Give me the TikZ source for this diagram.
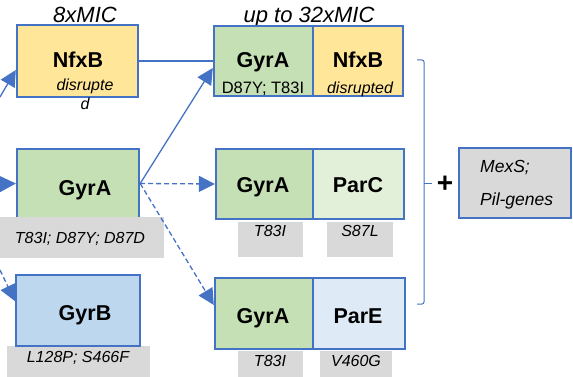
\documentclass[tikz,border=0pt]{standalone}
\usepackage{fontspec}
\setmainfont{Liberation Sans}
\usetikzlibrary{arrows.meta}
\definecolor{bl}{HTML}{4472C4}
\definecolor{yel}{HTML}{FFE699}
\definecolor{grn}{HTML}{C5E0B4}
\definecolor{lgrn}{HTML}{E2F0D9}
\definecolor{blu}{HTML}{BDD7EE}
\definecolor{lblu}{HTML}{DEEBF7}
\definecolor{gry}{HTML}{D9D9D9}
\begin{document}
\begin{tikzpicture}[x=1pt,y=-1pt,
  gbox/.style={draw=bl, line width=2.4pt, inner sep=0pt},
  glab/.style={fill=gry, inner sep=0pt},
  big/.style={font=\fontsize{21.5}{25}\selectfont\bfseries, anchor=base, inner sep=0pt},
  small/.style={font=\fontsize{16}{19}\selectfont\itshape, anchor=base, inner sep=0pt},
  head/.style={font=\fontsize{22}{26}\selectfont\itshape, anchor=base, inner sep=0pt},
  conn/.style={draw=bl, line width=1.3pt},
  arr/.style={conn, -{Triangle[length=16pt,width=16pt]}},
  dline/.style={dash pattern=on 5pt off 3pt}
]
\useasboundingbox (0,0) rectangle (573,377);

% headers
\node[head] (h1) at (85,23) {8xMIC};
\node[head] (h2) at (309,23) {up to 32xMIC};

% left column
\node[gbox, fill=yel, minimum width=121pt, minimum height=72pt] (nfxb1) at (77.5,61) {};
\node[big] (t1) at (78,68) {NfxB};
\node[small, align=center, anchor=north] (t1b) at (85,79) {disrupte\\d};

\node[gbox, fill=grn, minimum width=122pt, minimum height=69pt] (gyra1) at (78,183.5) {};
\node[big] (t2) at (85,195) {GyrA};
\node[glab, minimum width=164pt, minimum height=41pt] (l2) at (82,237.5) {};
\node[small] (t2b) at (80,243) {T83I; D87Y; D87D};

\node[glab, minimum width=143pt, minimum height=32pt] (l3) at (78.5,362) {};
\node[gbox, fill=blu, minimum width=124pt, minimum height=71pt] (gyrb) at (78,310.5) {};
\node[big] (t3) at (85,320) {GyrB};
\node[small] (t3b) at (78,362) {L128P; S466F};

% middle column top
\node[gbox, fill=grn, minimum width=99pt, minimum height=70pt] (tga) at (263.5,61) {};
\node[gbox, fill=yel, minimum width=90pt, minimum height=70pt] (tnf) at (358,61) {};
\node[big] (t4) at (263,68) {GyrA};
\node[big] (t5) at (358,68) {NfxB};
\node[font=\fontsize{16.5}{19}\selectfont, anchor=base, inner sep=0pt] (t4b) at (263,94) {D87Y; T83I};
\node[small] (t5b) at (360,94) {disrupted};

% middle column middle
\node[gbox, fill=grn, minimum width=97pt, minimum height=70pt] (mga) at (264.5,184) {};
\node[gbox, fill=lgrn, minimum width=91pt, minimum height=70pt] (mpc) at (358.5,184) {};
\node[big] (t6) at (263,193) {GyrA};
\node[big] (t7) at (358,193) {ParC};
\node[glab, minimum width=65pt, minimum height=35pt] (l6) at (270.5,239.5) {};
\node[glab, minimum width=66pt, minimum height=35pt] (l7) at (360,239.5) {};
\node[small] (t6b) at (270,236) {T83I};
\node[small] (t7b) at (360,236) {S87L};

% middle column bottom
\node[gbox, fill=grn, minimum width=98pt, minimum height=71pt] (bga) at (264,313.5) {};
\node[gbox, fill=lblu, minimum width=92pt, minimum height=71pt] (bpe) at (359,313.5) {};
\node[big] (t8) at (263,323) {GyrA};
\node[big] (t9) at (358,323) {ParE};
\node[glab, minimum width=65pt, minimum height=27pt] (l8) at (270.5,364) {};
\node[glab, minimum width=72pt, minimum height=27pt] (l9) at (356,364) {};
\node[small] (t8b) at (270,366) {T83I};
\node[small] (t9b) at (356,366) {V460G};

% bracket
\coordinate (bt) at (417,60);
\coordinate (bb) at (417,304);
\coordinate (bm) at (432,183);
\draw[conn, line width=1pt, rounded corners=2pt] (bt) -- (424,60) -- (424,304) -- (bb);
\draw[conn, line width=1pt] (424,183) -- (bm);
\node[font=\fontsize{28}{30}\selectfont\bfseries, inner sep=0pt] (plus) at (445,184) {+};

% MexS box
\node[gbox, fill=gry, minimum width=112pt, minimum height=70pt] (mex) at (515,183) {};
\node[font=\fontsize{17.5}{21}\selectfont\itshape, anchor=base west, inner sep=0pt] (m1) at (480,172) {MexS;};
\node[font=\fontsize{17.5}{21}\selectfont\itshape, anchor=base west, inner sep=0pt] (m2) at (480,205) {Pil-genes};

% connectors
\coordinate (in1) at (0,97);
\coordinate (in2) at (0,184);
\coordinate (in3) at (0,270);
\draw[arr] (in1) -- ([yshift=-9pt]nfxb1.west);
\draw[arr, dline] (in2) -- (gyra1.west);
\draw[arr, dline] (in3) -- ([yshift=9.5pt]gyrb.west);
\draw[conn] (nfxb1.east) -- (tga.west);
\draw[arr] (gyra1.east) -- ([yshift=-7pt]tga.west);
\draw[arr, dline] (gyra1.east) -- (mga.west);
\draw[arr, dline] (gyra1.east) -- ([yshift=8.5pt]bga.west);
\end{tikzpicture}
\end{document}
